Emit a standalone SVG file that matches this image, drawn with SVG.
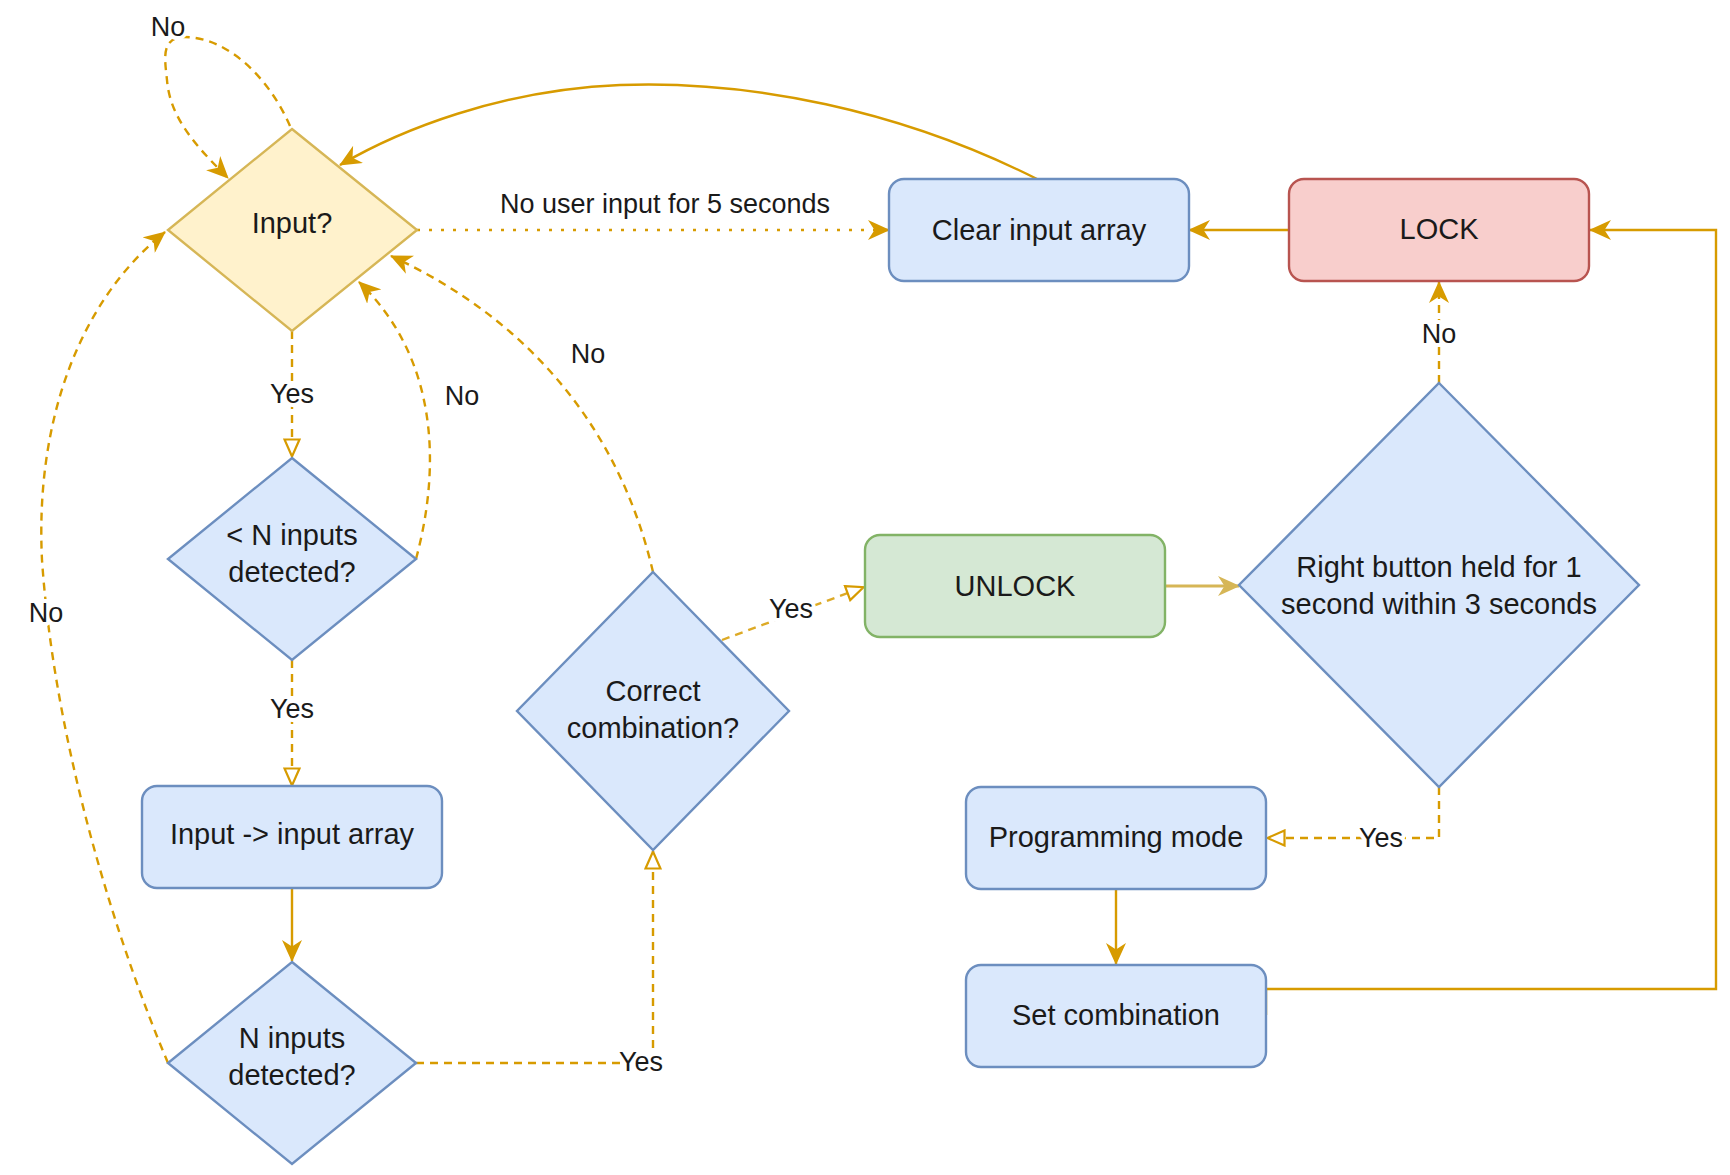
<svg xmlns="http://www.w3.org/2000/svg" width="1730" height="1175" viewBox="0 0 1730 1175">
<defs>
<style>
.node text{font-family:"Liberation Sans",Arial,sans-serif;font-size:29px;fill:#1a1a1a;text-anchor:middle}
.blue{fill:#dae8fc;stroke:#6c8ebf;stroke-width:2.4}
.yellow{fill:#fff2cc;stroke:#d6b656;stroke-width:2.4}
.red{fill:#f8cecc;stroke:#b85450;stroke-width:2.4}
.green{fill:#d5e8d4;stroke:#82b366;stroke-width:2.4}
.edge{fill:none;stroke:#d79b00;stroke-width:2.4}
.dash{stroke-dasharray:8 6}
.dot{stroke-dasharray:3 9}
.lbl{font-family:"Liberation Sans",Arial,sans-serif;font-size:27px;fill:#1a1a1a;text-anchor:middle;stroke:#ffffff;stroke-width:8;paint-order:stroke;stroke-linejoin:round}
</style>
<marker id="arr" viewBox="0 0 22 20" refX="21" refY="10" markerWidth="22" markerHeight="20" markerUnits="userSpaceOnUse" orient="auto">
<path d="M0,0 L22,10 L0,20 L6.5,10 Z" fill="#d79b00"/>
</marker>
<marker id="arrY" viewBox="0 0 22 20" refX="21" refY="10" markerWidth="22" markerHeight="20" markerUnits="userSpaceOnUse" orient="auto">
<path d="M0,0 L22,10 L0,20 L6.5,10 Z" fill="#d6b656"/>
</marker>
<marker id="open" viewBox="0 0 20 18" refX="19" refY="9" markerWidth="20" markerHeight="18" markerUnits="userSpaceOnUse" orient="auto">
<path d="M1.5,1.5 L18.5,9 L1.5,16.5 Z" fill="#ffffff" stroke="#d79b00" stroke-width="2.2"/>
</marker>
</defs>
<rect width="1730" height="1175" fill="#ffffff"/>

<g id="connectors">
<path class="edge dash" d="M290,126 C270,80 230,38 185,37 C160,37 165,60 167,80 C170,120 200,150 228,178" marker-end="url(#arr)"/>
<path class="edge" d="M1037,179 C900,110 750,80 620,85 C500,90 400,130 340,165" marker-end="url(#arr)"/>
<path class="edge dot" d="M417,230 L889,230" marker-end="url(#arr)"/>
<path class="edge" d="M1289,230 L1189,230" marker-end="url(#arr)"/>
<path class="edge dash" d="M292,331 L292,457" marker-end="url(#open)"/>
<path class="edge dash" d="M416,559 C440,470 440,360 359,282" marker-end="url(#arr)"/>
<path class="edge dash" d="M653,572 C620,430 530,320 391,256" marker-end="url(#arr)"/>
<path class="edge dash" d="M292,660 L292,786" marker-end="url(#open)"/>
<path class="edge" d="M292,888 L292,961" marker-end="url(#arr)"/>
<path class="edge dash" d="M168,1063 C120,950 55,750 42,560 C35,420 80,300 165,232" marker-end="url(#arr)"/>
<path class="edge dash" d="M416,1063 L653,1063 L653,851" marker-end="url(#open)"/>
<path class="edge dash" d="M722,640 L864,587" stroke-opacity="0.85" marker-end="url(#open)"/>
<path d="M1165,586 L1239,586" fill="none" stroke="#d6b656" stroke-width="3.2" marker-end="url(#arrY)"/>
<path class="edge dash" d="M1439,383 L1439,282" marker-end="url(#arr)"/>
<path class="edge dash" d="M1439,787 L1439,838 L1267,838" stroke-width="2.8" marker-end="url(#open)"/>
<path class="edge" d="M1116,889 L1116,964" marker-end="url(#arr)"/>
<path class="edge" d="M1266,1015 L1266,989 L1716,989 L1716,230 L1590,230" marker-end="url(#arr)"/>
<text class="lbl" x="168" y="36">No</text>
<text class="lbl" x="665" y="213">No user input for 5 seconds</text>
<text class="lbl" x="292" y="403">Yes</text>
<text class="lbl" x="462" y="405">No</text>
<text class="lbl" x="588" y="363">No</text>
<text class="lbl" x="46" y="622">No</text>
<text class="lbl" x="292" y="718">Yes</text>
<text class="lbl" x="641" y="1071">Yes</text>
<text class="lbl" x="791" y="618">Yes</text>
<text class="lbl" x="1439" y="343">No</text>
<text class="lbl" x="1381" y="847">Yes</text>
</g>

<g id="node-input" class="node">
<polygon class="yellow" points="292,129 417,230 292,331 168,230"/>
<text x="292" y="233">Input?</text>
</g>
<g id="node-clear" class="node">
<rect class="blue" x="889" y="179" width="300" height="102" rx="15"/>
<text x="1039" y="240">Clear input array</text>
</g>
<g id="node-lock" class="node">
<rect class="red" x="1289" y="179" width="300" height="102" rx="15"/>
<text x="1439" y="239">LOCK</text>
</g>
<g id="node-lessn" class="node">
<polygon class="blue" points="292,458 416,559 292,660 168,559"/>
<text x="292" y="545">&lt; N inputs</text>
<text x="292" y="582">detected?</text>
</g>
<g id="node-correct" class="node">
<polygon class="blue" points="653,572 789,711 653,850 517,711"/>
<text x="653" y="701">Correct</text>
<text x="653" y="738">combination?</text>
</g>
<g id="node-unlock" class="node">
<rect class="green" x="865" y="535" width="300" height="102" rx="15"/>
<text x="1015" y="596">UNLOCK</text>
</g>
<g id="node-right" class="node">
<polygon class="blue" points="1439,383 1639,585 1439,787 1239,585"/>
<text x="1439" y="577">Right button held for 1</text>
<text x="1439" y="614">second within 3 seconds</text>
</g>
<g id="node-inputarray" class="node">
<rect class="blue" x="142" y="786" width="300" height="102" rx="15"/>
<text x="292" y="844">Input -&gt; input array</text>
</g>
<g id="node-prog" class="node">
<rect class="blue" x="966" y="787" width="300" height="102" rx="15"/>
<text x="1116" y="847">Programming mode</text>
</g>
<g id="node-ninputs" class="node">
<polygon class="blue" points="292,962 416,1063 292,1164 168,1063"/>
<text x="292" y="1048">N inputs</text>
<text x="292" y="1085">detected?</text>
</g>
<g id="node-setcomb" class="node">
<rect class="blue" x="966" y="965" width="300" height="102" rx="15"/>
<text x="1116" y="1025">Set combination</text>
</g>
</svg>
